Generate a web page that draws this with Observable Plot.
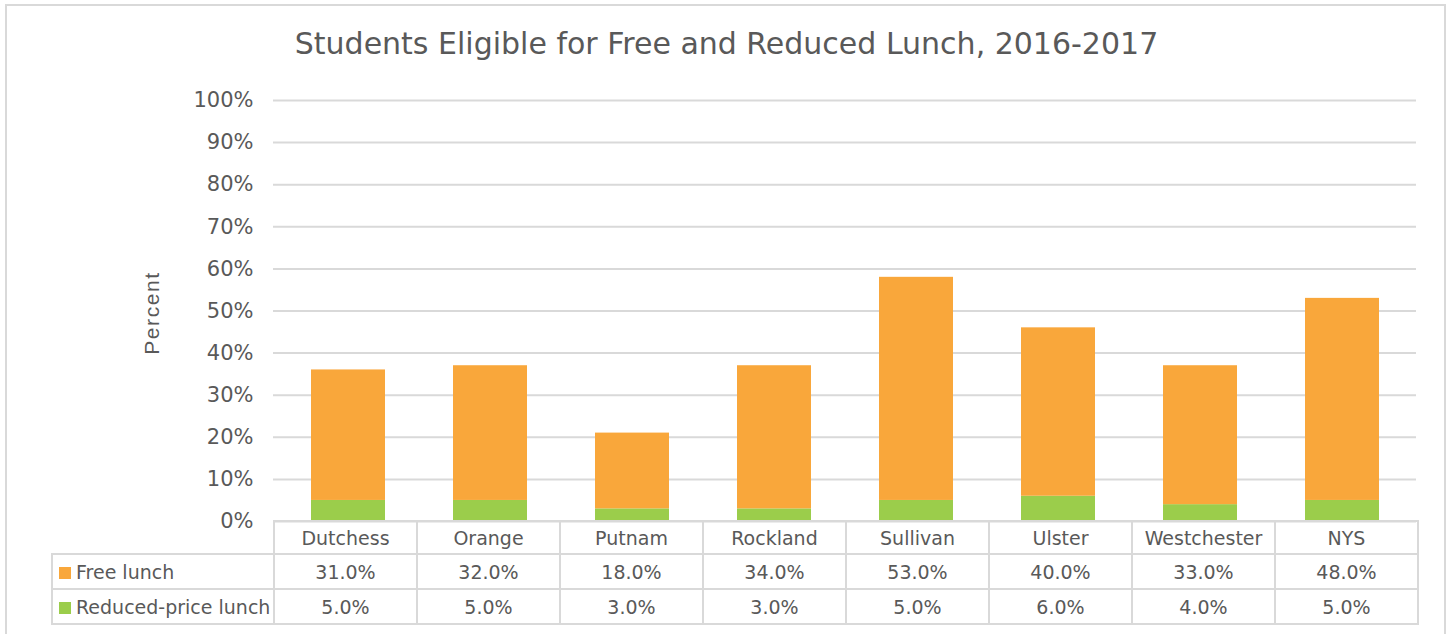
<!DOCTYPE html>
<html>
<head>
<meta charset="utf-8">
<script src="https://cdn.jsdelivr.net/npm/d3@7"></script>
<script src="https://cdn.jsdelivr.net/npm/@observablehq/plot@0.6"></script>
<style>
  html, body { margin: 0; padding: 0; background: #fff; }
  #wrap { position: relative; width: 1449px; height: 634px; overflow: hidden; font-family: "DejaVu Sans", sans-serif; color: #595959; }
  #frame { position: absolute; left: 5px; top: 4px; width: 1437px; height: 700px; border: 2px solid #d9d9d9; }
  #title { position: absolute; left: 0; width: 1449px; top: 26px; text-align: center; font-size: 30px; padding-left: 2px; }
  #chart { position: absolute; left: 0; top: 0; }
  #ylab { position: absolute; left: 152px; top: 313px; transform: translate(-50%, -50%) rotate(-90deg); font-family: "Liberation Sans", Arial, sans-serif; font-size: 21px; letter-spacing: 1.6px; white-space: nowrap; }
  #tbl { position: absolute; left: 51px; top: 520px; border-collapse: collapse; table-layout: fixed; width: 1366px; font-size: 19px; }
  #tbl td { border: 2px solid #d9d9d9; text-align: center; padding: 0; white-space: nowrap; }
  #tbl tr.head td { height: 31px; }
  #tbl tr.row td { height: 33px; }
  #tbl td.blank { border: none; }
  #tbl td.lab { text-align: left; }
  .sw { display: inline-block; width: 12px; height: 12px; margin: 0 5px 0 6px; vertical-align: 0px; }
</style>
</head>
<body>
<div id="wrap">
  <div id="frame"></div>
  <div id="title"></div>
  <div id="chart"></div>
  <div id="ylab"></div>
  <table id="tbl"></table>
</div>
<script>
const titleText = "Students Eligible for Free and Reduced Lunch, 2016-2017";
const yLabel = "Percent";
const categories = ["Dutchess", "Orange", "Putnam", "Rockland", "Sullivan", "Ulster", "Westchester", "NYS"];
const seriesNames = ["Free lunch", "Reduced-price lunch"];
const freeLunch = [31, 32, 18, 34, 53, 40, 33, 48];
const reducedLunch = [5, 5, 3, 3, 5, 6, 4, 5];
const seriesColors = ["#F9A73B", "#9BCD4B"];
const yTicks = [0, 10, 20, 30, 40, 50, 60, 70, 80, 90, 100];

document.getElementById("title").textContent = titleText;
document.getElementById("ylab").textContent = yLabel;

// reduced first so it stacks at the bottom
const data = [];
categories.forEach((c, i) => data.push({cat: c, series: seriesNames[1], value: reducedLunch[i]}));
categories.forEach((c, i) => data.push({cat: c, series: seriesNames[0], value: freeLunch[i]}));

const chart = Plot.plot({
  width: 1449,
  height: 545,
  marginLeft: 273,
  marginRight: 33,
  marginTop: 100,
  marginBottom: 24,
  style: {fontFamily: "DejaVu Sans, sans-serif", color: "#595959", background: "transparent"},
  x: {domain: categories, paddingInner: 0.48, paddingOuter: 0.24, axis: null},
  y: {domain: [0, 100], axis: null},
  color: {domain: seriesNames, range: seriesColors},
  marks: [
    Plot.gridY(yTicks, {stroke: "#d9d9d9", strokeWidth: 2, strokeOpacity: 1}),
    Plot.barY(data, {x: "cat", y: "value", fill: "series"}),
    Plot.axisY(yTicks, {tickSize: 0, tickPadding: 20, tickFormat: d => d + "%", fontSize: 21, fill: "#595959", label: null})
  ]
});
document.getElementById("chart").appendChild(chart);

// data table
const tbl = document.getElementById("tbl");
const cg = document.createElement("colgroup");
const c0 = document.createElement("col"); c0.style.width = "222px"; cg.appendChild(c0);
categories.forEach(() => { const c = document.createElement("col"); c.style.width = (1144 / categories.length) + "px"; cg.appendChild(c); });
tbl.appendChild(cg);
const head = document.createElement("tr"); head.className = "head";
const blank = document.createElement("td"); blank.className = "blank"; head.appendChild(blank);
categories.forEach(c => { const td = document.createElement("td"); td.textContent = c; head.appendChild(td); });
tbl.appendChild(head);
[freeLunch, reducedLunch].forEach((vals, si) => {
  const tr = document.createElement("tr"); tr.className = "row";
  const lab = document.createElement("td"); lab.className = "lab";
  const sw = document.createElement("span"); sw.className = "sw"; sw.style.background = seriesColors[si];
  lab.appendChild(sw); lab.appendChild(document.createTextNode(seriesNames[si]));
  tr.appendChild(lab);
  vals.forEach(v => { const td = document.createElement("td"); td.textContent = v.toFixed(1) + "%"; tr.appendChild(td); });
  tbl.appendChild(tr);
});
</script>
</body>
</html>
